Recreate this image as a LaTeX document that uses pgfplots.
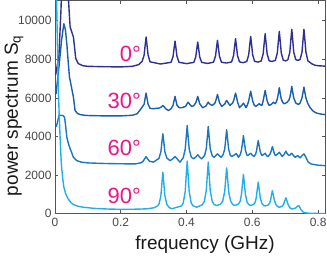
\documentclass[border=0pt]{standalone}
\usepackage{fontspec}
\setmainfont{Liberation Sans}
\usepackage{pgfplots}
\pgfplotsset{compat=1.18}
\definecolor{cA}{HTML}{2E3192}
\definecolor{cB}{HTML}{1B5EAB}
\definecolor{cC}{HTML}{1C78BE}
\definecolor{cD}{HTML}{22AEE6}
\definecolor{mag}{HTML}{E8178A}
\definecolor{axc}{HTML}{555555}
\begin{document}
\begin{tikzpicture}
\path[use as bounding box] (-55pt,-42pt) rectangle (272pt,213.6pt);
\begin{axis}[
  at={(0pt,0pt)}, anchor=south west,
  scale only axis, width=270pt, height=213pt,
  xmin=0, xmax=0.821, ymin=0, ymax=11050,
  xtick={0,0.2,0.4,0.6,0.8},
  ytick={0,2000,4000,6000,8000,10000},
  scaled ticks=false,
  /pgf/number format/1000 sep={},
  /pgf/number format/assume math mode=true,
  tick label style={font=\fontsize{12}{14}\selectfont, text=black!72},
  xticklabel style={yshift=-3pt, inner sep=1pt},
  xticklabels={0,0.2,0.4,0.6,0.8},
  major tick length=3.5pt,
  axis line style={axc, line width=0.8pt},
  every tick/.style={axc, line width=0.7pt},
  xlabel={frequency (GHz)},
  ylabel={power spectrum S\textsubscript{q}},
  label style={font=\fontsize{19}{22}\selectfont, text=black!90, inner sep=1pt},
  xlabel style={at={(axis description cs:0.556,0)}, anchor=center, yshift=-30.5pt},
  ylabel style={at={([xshift=-41pt]axis description cs:0,0.46)}, anchor=center},
  clip=true,
  every axis plot/.append style={line width=1.4pt, line join=round},
]
% 0 degrees
\addplot[cA] coordinates {
(0.002,7200) (0.012,8200) (0.018,10500) (0.022,12500) (0.030,14000) (0.037,12500) (0.042,10800)
(0.046,9680) (0.051,9420) (0.056,9160) (0.059,8700) (0.063,8050) (0.071,7780) (0.085,7670)
(0.100,7640) (0.150,7620) (0.200,7610) (0.235,7640) (0.255,7730)
(0.265,7900) (0.271,8225) (0.274,8707) (0.277,9160) (0.280,8707) (0.283,8225) (0.289,7875) (0.321,7760)
(0.353,7850) (0.359,8150) (0.362,8560) (0.365,8950) (0.368,8560) (0.371,8150) (0.377,7850) (0.400,7780)
(0.422,7845) (0.428,8130) (0.431,8530) (0.434,8900) (0.437,8530) (0.440,8130) (0.446,7845) (0.464,7790)
(0.482,7855) (0.488,8165) (0.491,8590) (0.494,8990) (0.497,8590) (0.500,8165) (0.506,7855) (0.521,7810)
(0.537,7870) (0.543,8195) (0.546,8650) (0.549,9075) (0.552,8650) (0.555,8195) (0.561,7870) (0.572,7830)
(0.583,7890) (0.589,8235) (0.592,8730) (0.595,9190) (0.598,8730) (0.601,8235) (0.607,7900) (0.617,7860)
(0.627,7920) (0.633,8290) (0.636,8830) (0.639,9335) (0.642,8830) (0.645,8290) (0.651,7930) (0.660,7890)
(0.670,7950) (0.676,8330) (0.679,8910) (0.682,9455) (0.685,8910) (0.688,8330) (0.694,7960) (0.701,7920)
(0.708,7980) (0.714,8370) (0.717,8985) (0.720,9560) (0.723,8985) (0.726,8370) (0.732,7990) (0.7385,7950)
(0.745,7990) (0.751,8370) (0.754,8985) (0.757,9560) (0.760,8985) (0.763,8370) (0.769,7925)
(0.780,7780) (0.790,7700) (0.800,7670) (0.821,7650)
};
% 30 degrees
\addplot[cB] coordinates {
(0.003,6200) (0.012,7600) (0.020,9000) (0.027,9850) (0.032,9500) (0.036,8800) (0.040,7900)
(0.044,7080) (0.048,6750) (0.051,6480) (0.056,6040) (0.061,5350) (0.068,5200) (0.076,5140)
(0.090,5100) (0.106,5085) (0.150,5070) (0.200,5070) (0.235,5100) (0.250,5180) (0.264,5500)
(0.271,5675) (0.274,5970) (0.277,6250) (0.280,5970) (0.283,5675) (0.289,5460) (0.299,5440)
(0.318,5480) (0.324,5540) (0.328,5610) (0.332,5540) (0.338,5420) (0.345,5350)
(0.353,5440) (0.359,5620) (0.362,5850) (0.365,6080) (0.368,5850) (0.371,5620) (0.377,5500) (0.385,5490)
(0.397,5560) (0.401,5680) (0.405,5780) (0.409,5680) (0.416,5560)
(0.422,5600) (0.428,5750) (0.431,5900) (0.434,6080) (0.437,5900) (0.440,5700) (0.449,5490)
(0.459,5580) (0.463,5700) (0.466,5780) (0.470,5690) (0.477,5610)
(0.485,5700) (0.488,5800) (0.491,5990) (0.494,6180) (0.497,5990) (0.500,5760) (0.507,5560)
(0.516,5680) (0.519,5790) (0.522,5870) (0.525,5790) (0.532,5610)
(0.540,5740) (0.543,5850) (0.546,6050) (0.549,6250) (0.552,6050) (0.555,5800) (0.561,5490)
(0.569,5640) (0.573,5730) (0.577,5620) (0.581,5490)
(0.586,5680) (0.589,5850) (0.592,6100) (0.595,6350) (0.598,6100) (0.601,5850) (0.606,5620) (0.611,5560)
(0.617,5650) (0.621,5700) (0.625,5640) (0.629,5610)
(0.633,5850) (0.636,6120) (0.639,6390) (0.642,6120) (0.645,5850) (0.649,5670) (0.652,5610)
(0.660,5700) (0.664,5780) (0.669,5700)
(0.673,5800) (0.676,5950) (0.679,6220) (0.682,6530) (0.685,6220) (0.688,5950) (0.692,5780) (0.697,5700)
(0.705,5760) (0.711,5880) (0.714,6020) (0.717,6280) (0.720,6600) (0.723,6280) (0.726,6000) (0.732,5740) (0.740,5660)
(0.745,5730) (0.751,6000) (0.754,6270) (0.757,6560) (0.760,6270) (0.763,6000) (0.769,5700)
(0.776,5490) (0.786,5300) (0.796,5210) (0.810,5160) (0.821,5140)
};
% 60 degrees
\addplot[cC] coordinates {
(0.004,4500) (0.012,5080) (0.018,5100) (0.024,5090) (0.029,5000) (0.032,4600) (0.036,3960)
(0.041,3620) (0.046,3360) (0.051,3150) (0.056,2920) (0.066,2750) (0.080,2670) (0.100,2630)
(0.150,2600) (0.200,2585) (0.245,2580) (0.262,2640)
(0.268,2720) (0.273,2850) (0.277,2960) (0.281,2850) (0.287,2720) (0.299,2670)
(0.316,2860) (0.322,3210) (0.325,3690) (0.328,4140) (0.331,3690) (0.334,3210) (0.340,2880) (0.350,2750)
(0.359,2850) (0.365,2960) (0.371,2850) (0.380,2670)
(0.390,2900) (0.396,3350) (0.399,3950) (0.402,4570) (0.405,3950) (0.408,3350) (0.414,2950) (0.421,2840)
(0.429,2950) (0.434,3050) (0.439,2950) (0.446,2840)
(0.455,3020) (0.460,3370) (0.463,3930) (0.466,4520) (0.469,3930) (0.472,3370) (0.478,3000) (0.484,2920)
(0.490,3030) (0.494,3100) (0.498,3030) (0.505,2920)
(0.511,3050) (0.516,3340) (0.519,3840) (0.522,4350) (0.525,3840) (0.528,3340) (0.533,3030) (0.537,2960)
(0.546,3050) (0.551,3120) (0.555,3010) (0.558,2920)
(0.564,3080) (0.567,3300) (0.570,3650) (0.573,4050) (0.576,3650) (0.579,3300) (0.583,3050) (0.586,3010)
(0.591,3080) (0.595,3130) (0.600,3030) (0.605,2960)
(0.610,3080) (0.613,3270) (0.615,3500) (0.618,3790) (0.621,3500) (0.624,3220) (0.628,3040) (0.630,3010)
(0.635,3080) (0.639,3130) (0.644,3000) (0.648,2960)
(0.654,3090) (0.657,3230) (0.661,3480) (0.665,3230) (0.668,3060) (0.671,3010)
(0.678,3110) (0.682,3180) (0.686,3080) (0.691,2960)
(0.697,3080) (0.702,3240) (0.707,3080) (0.712,3010)
(0.717,3090) (0.720,3130) (0.724,3040) (0.730,2920) (0.738,3010) (0.745,2890)
(0.752,3020) (0.757,3100) (0.762,2950) (0.770,2670) (0.778,2580) (0.786,2550) (0.800,2510) (0.821,2490)
};
% 90 degrees
\addplot[cD] coordinates {
(0.002,14000) (0.006,10000) (0.010,6500) (0.013,5000) (0.015,4140) (0.018,3000) (0.020,2410)
(0.024,1750) (0.027,1370) (0.033,1000) (0.040,760) (0.048,580) (0.056,470) (0.070,380)
(0.086,330) (0.120,270) (0.157,240) (0.200,220) (0.250,230) (0.280,250) (0.300,300) (0.310,380)
(0.316,480) (0.322,930) (0.325,1560) (0.328,2150) (0.331,1560) (0.334,930) (0.340,480) (0.347,320) (0.355,250)
(0.365,300) (0.385,400) (0.390,560) (0.396,1150) (0.399,1960) (0.402,2720) (0.405,1960) (0.408,1150) (0.414,560) (0.420,400) (0.431,330)
(0.448,460) (0.454,630) (0.460,1200) (0.463,1960) (0.466,2670) (0.469,1960) (0.472,1200) (0.478,630) (0.484,470) (0.492,415)
(0.504,500) (0.510,650) (0.516,1140) (0.519,1780) (0.522,2370) (0.525,1780) (0.528,1140) (0.534,650) (0.540,480) (0.547,415)
(0.558,500) (0.563,640) (0.567,1000) (0.570,1520) (0.573,2030) (0.576,1520) (0.579,1000) (0.584,600) (0.589,470) (0.595,415)
(0.604,480) (0.609,600) (0.612,830) (0.615,1250) (0.618,1630) (0.621,1250) (0.624,830) (0.629,530) (0.634,430) (0.639,400)
(0.648,440) (0.653,560) (0.656,730) (0.658,950) (0.661,1190) (0.664,950) (0.667,700) (0.672,460) (0.677,370) (0.682,330)
(0.690,370) (0.695,480) (0.699,680) (0.702,815) (0.705,680) (0.709,460) (0.714,310) (0.720,240)
(0.732,290) (0.737,380) (0.740,415) (0.743,370) (0.748,200) (0.755,70) (0.765,30) (0.776,15) (0.800,8) (0.821,5)
};
\node[anchor=east, inner sep=0pt, text=mag, font=\fontsize{22}{24}\selectfont] at (axis cs:0.2616,8296) {0°};
\node[anchor=east, inner sep=0pt, text=mag, font=\fontsize{22}{24}\selectfont] at (axis cs:0.2616,5870) {30°};
\node[anchor=east, inner sep=0pt, text=mag, font=\fontsize{22}{24}\selectfont] at (axis cs:0.2616,3410) {60°};
\node[anchor=east, inner sep=0pt, text=mag, font=\fontsize{22}{24}\selectfont] at (axis cs:0.2616,935) {90°};
\end{axis}
\end{tikzpicture}
\end{document}
